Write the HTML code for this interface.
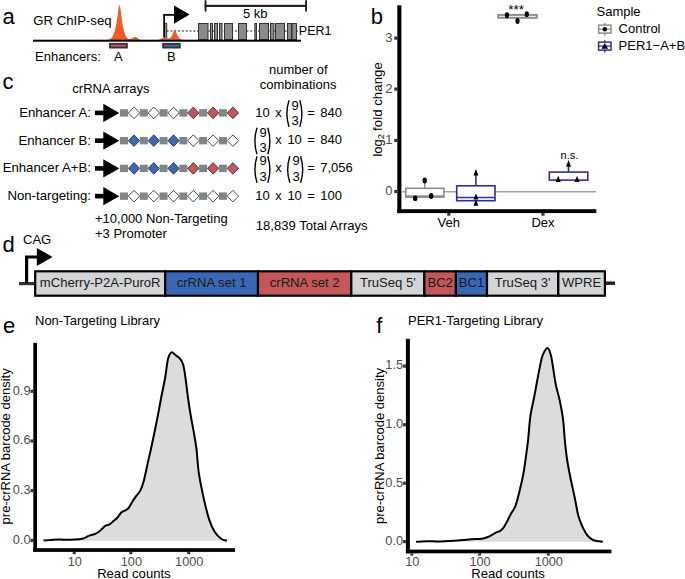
<!DOCTYPE html>
<html><head><meta charset="utf-8"><style>
html,body{margin:0;padding:0;background:#fff;}
svg{display:block;}
text{font-family:"Liberation Sans",sans-serif;}
</style></head><body>
<svg width="685" height="579" viewBox="0 0 685 579">
<rect width="685" height="579" fill="#fff"/>
<text x="2.5" y="24.3" font-size="22" text-anchor="start" fill="#000" >a</text>
<text x="33.2" y="24.6" font-size="13.2" text-anchor="start" fill="#000" >GR ChIP-seq</text>
<path d="M107,40 L107.00,39.80 L107.25,39.78 L107.50,39.75 L107.75,39.71 L108.00,39.67 L108.25,39.63 L108.50,39.58 L108.75,39.52 L109.00,39.45 L109.25,39.37 L109.50,39.29 L109.75,39.19 L110.00,39.07 L110.25,38.94 L110.50,38.79 L110.75,38.61 L111.00,38.42 L111.25,38.19 L111.50,37.94 L111.75,37.65 L112.00,37.33 L112.25,36.96 L112.50,36.56 L112.75,36.10 L113.00,35.60 L113.25,35.05 L113.50,34.45 L113.75,33.80 L114.00,33.09 L114.25,32.33 L114.50,31.52 L114.75,30.66 L115.00,29.75 L115.25,28.78 L115.50,27.76 L115.75,26.68 L116.00,25.52 L116.25,24.28 L116.50,22.95 L116.75,21.50 L117.00,19.92 L117.25,18.21 L117.50,16.37 L117.75,14.45 L118.00,12.49 L118.25,10.57 L118.50,8.79 L118.75,7.26 L119.00,6.09 L119.25,5.36 L119.50,5.14 L119.75,5.44 L120.00,6.25 L120.25,7.51 L120.50,9.12 L120.75,10.97 L121.00,12.96 L121.25,15.00 L121.50,16.99 L121.75,18.88 L122.00,20.65 L122.25,22.28 L122.50,23.78 L122.75,25.15 L123.00,26.43 L123.25,27.61 L123.50,28.71 L123.75,29.75 L124.00,30.72 L124.25,31.64 L124.50,32.50 L124.75,33.29 L125.00,34.03 L125.25,34.71 L125.50,35.33 L125.75,35.89 L126.00,36.40 L126.25,36.84 L126.50,37.23 L126.75,37.58 L127.00,37.87 L127.25,38.12 L127.50,38.33 L127.75,38.50 L128.00,38.64 L128.25,38.75 L128.50,38.83 L128.75,38.89 L129.00,38.93 L129.25,38.96 L129.50,38.96 L129.75,38.96 L130.00,38.94 L130.25,38.91 L130.50,38.86 L130.75,38.81 L131.00,38.74 L131.25,38.66 L131.50,38.57 L131.75,38.47 L132.00,38.36 L132.25,38.23 L132.50,38.10 L132.75,37.95 L133.00,37.81 L133.25,37.66 L133.50,37.52 L133.75,37.39 L134.00,37.26 L134.25,37.16 L134.50,37.07 L134.75,37.02 L135.00,36.99 L135.25,36.99 L135.50,37.02 L135.75,37.08 L136.00,37.17 L136.25,37.29 L136.50,37.43 L136.75,37.59 L137.00,37.77 L137.25,37.96 L137.50,38.15 L137.75,38.35 L138.00,38.54 L138.25,38.72 L138.50,38.89 L138.75,39.06 L139.00,39.20 L139.25,39.33 L139.50,39.45 L139.75,39.55 L140.00,39.64 L140.25,39.71 L140.50,39.77 L140.75,39.82 L141.00,39.87 L141,40 Z" fill="#ef5d26"/>
<line x1="166.7" y1="31" x2="298" y2="31" stroke="#666" stroke-width="1.3" stroke-dasharray="2,1.8"/>
<rect x="198.5" y="23.5" width="9.5" height="16" fill="#8a8a8a" stroke="#333" stroke-width="1"/>
<rect x="210.5" y="23.5" width="2" height="16" fill="#8a8a8a" stroke="#333" stroke-width="1"/>
<rect x="214.5" y="23.5" width="3" height="16" fill="#8a8a8a" stroke="#333" stroke-width="1"/>
<rect x="219.5" y="23.5" width="2.5" height="16" fill="#8a8a8a" stroke="#333" stroke-width="1"/>
<rect x="224.5" y="23.5" width="8" height="16" fill="#8a8a8a" stroke="#333" stroke-width="1"/>
<rect x="238.5" y="23.5" width="8" height="16" fill="#8a8a8a" stroke="#333" stroke-width="1"/>
<rect x="254.9" y="23.5" width="1.5999999999999943" height="16" fill="#8a8a8a" stroke="#333" stroke-width="1"/>
<rect x="259.5" y="23.5" width="9" height="16" fill="#8a8a8a" stroke="#333" stroke-width="1"/>
<rect x="270.5" y="23.5" width="3.3999999999999773" height="16" fill="#8a8a8a" stroke="#333" stroke-width="1"/>
<rect x="275.5" y="23.5" width="9" height="16" fill="#8a8a8a" stroke="#333" stroke-width="1"/>
<rect x="287.5" y="23.5" width="4" height="16" fill="#8a8a8a" stroke="#333" stroke-width="1"/>
<rect x="292.0" y="23.5" width="4.5" height="16" fill="#8a8a8a" stroke="#333" stroke-width="1"/>
<rect x="164.5" y="23.5" width="2.2" height="16" fill="#8a8a8a" stroke="#333" stroke-width="1"/>
<path d="M158,40 L158.00,39.89 L158.25,39.86 L158.50,39.82 L158.75,39.77 L159.00,39.72 L159.25,39.66 L159.50,39.59 L159.75,39.51 L160.00,39.42 L160.25,39.32 L160.50,39.20 L160.75,39.08 L161.00,38.95 L161.25,38.81 L161.50,38.66 L161.75,38.51 L162.00,38.36 L162.25,38.21 L162.50,38.06 L162.75,37.93 L163.00,37.80 L163.25,37.68 L163.50,37.58 L163.75,37.50 L164.00,37.44 L164.25,37.40 L164.50,37.38 L164.75,37.39 L165.00,37.42 L165.25,37.47 L165.50,37.53 L165.75,37.62 L166.00,37.71 L166.25,37.82 L166.50,37.93 L166.75,38.04 L167.00,38.15 L167.25,38.25 L167.50,38.34 L167.75,38.41 L168.00,38.47 L168.25,38.50 L168.50,38.51 L168.75,38.49 L169.00,38.45 L169.25,38.37 L169.50,38.27 L169.75,38.13 L170.00,37.97 L170.25,37.78 L170.50,37.56 L170.75,37.31 L171.00,37.03 L171.25,36.73 L171.50,36.39 L171.75,36.02 L172.00,35.61 L172.25,35.14 L172.50,34.61 L172.75,34.02 L173.00,33.36 L173.25,32.65 L173.50,31.92 L173.75,31.21 L174.00,30.55 L174.25,30.02 L174.50,29.66 L174.75,29.50 L175.00,29.57 L175.25,29.86 L175.50,30.33 L175.75,30.94 L176.00,31.64 L176.25,32.37 L176.50,33.09 L176.75,33.78 L177.00,34.40 L177.25,34.96 L177.50,35.46 L177.75,35.91 L178.00,36.31 L178.25,36.68 L178.50,37.02 L178.75,37.33 L179.00,37.63 L179.25,37.90 L179.50,38.15 L179.75,38.38 L180.00,38.60 L180.25,38.79 L180.50,38.96 L180.75,39.12 L181.00,39.26 L181.25,39.38 L181.50,39.48 L181.75,39.57 L182.00,39.65 L182.25,39.71 L182.50,39.77 L182.75,39.81 L183.00,39.85 L183.25,39.88 L183.50,39.91 L183.75,39.93 L184.00,39.94 L184,40 Z" fill="#ef5d26"/>
<path d="M164.1,37.2 L164.1,14.9 L175,14.9" fill="none" stroke="#000" stroke-width="1.7"/>
<polygon points="174,5.4 174,23.7 189.6,14.5" fill="#000"/>
<rect x="33" y="39.7" width="268" height="2" fill="#000"/>
<rect x="204.6" y="4.8" width="102.4" height="2.2" fill="#231f20"/>
<rect x="204.6" y="0" width="1.9" height="11.7" rx="0.9" fill="#231f20"/>
<rect x="305.1" y="0" width="1.9" height="11.7" rx="0.9" fill="#231f20"/>
<text x="255.2" y="17.9" font-size="13" text-anchor="middle" fill="#000" >5 kb</text>
<text x="298.8" y="35.4" font-size="12.5" text-anchor="start" fill="#000" >PER1</text>
<rect x="110" y="43.8" width="16.9" height="3.8" fill="#c4575a" stroke="#333" stroke-width="1.8"/>
<rect x="163.1" y="43.8" width="16.7" height="3.8" fill="#3b68b5" stroke="#333" stroke-width="1.8"/>
<text x="35" y="61.2" font-size="13" text-anchor="start" fill="#000" >Enhancers:</text>
<text x="118.3" y="61.4" font-size="13" text-anchor="middle" fill="#000" >A</text>
<text x="171.4" y="61.4" font-size="13" text-anchor="middle" fill="#000" >B</text>
<text x="2.5" y="89.3" font-size="22" text-anchor="start" fill="#000" >c</text>
<text x="72.3" y="93.2" font-size="13" text-anchor="start" fill="#000" >crRNA arrays</text>
<text x="298.3" y="73.7" font-size="13" text-anchor="middle" fill="#000" >number of</text>
<text x="298.1" y="89.4" font-size="13" text-anchor="middle" fill="#000" >combinations</text>
<text x="91.0" y="116.80000000000001" font-size="13.2" text-anchor="end" fill="#000" >Enhancer A:</text>
<rect x="95" y="110.60" width="9.5" height="4.6" fill="#000"/>
<polygon points="103.3,103.70 103.3,122.10 119.3,112.90" fill="#000"/>
<rect x="120.00" y="109.20" width="8" height="7.4" fill="#7e8689"/>
<polygon points="134.00,107.10 139.70,112.90 134.00,118.70 128.30,112.90" fill="#ffffff" stroke="#333" stroke-width="0.9"/>
<rect x="139.78" y="109.20" width="8" height="7.4" fill="#7e8689"/>
<polygon points="153.78,107.10 159.48,112.90 153.78,118.70 148.08,112.90" fill="#ffffff" stroke="#333" stroke-width="0.9"/>
<rect x="159.56" y="109.20" width="8" height="7.4" fill="#7e8689"/>
<polygon points="173.56,107.10 179.26,112.90 173.56,118.70 167.86,112.90" fill="#ffffff" stroke="#333" stroke-width="0.9"/>
<rect x="179.34" y="109.20" width="8" height="7.4" fill="#7e8689"/>
<polygon points="193.34,107.10 199.04,112.90 193.34,118.70 187.64,112.90" fill="#c4575a" stroke="#333" stroke-width="0.9"/>
<rect x="199.12" y="109.20" width="8" height="7.4" fill="#7e8689"/>
<polygon points="213.12,107.10 218.82,112.90 213.12,118.70 207.42,112.90" fill="#c4575a" stroke="#333" stroke-width="0.9"/>
<rect x="218.90" y="109.20" width="8" height="7.4" fill="#7e8689"/>
<polygon points="232.90,107.10 238.60,112.90 232.90,118.70 227.20,112.90" fill="#c4575a" stroke="#333" stroke-width="0.9"/>
<text x="91.0" y="144.55" font-size="13.2" text-anchor="end" fill="#000" >Enhancer B:</text>
<rect x="95" y="138.35" width="9.5" height="4.6" fill="#000"/>
<polygon points="103.3,131.45 103.3,149.85 119.3,140.65" fill="#000"/>
<rect x="120.00" y="136.95" width="8" height="7.4" fill="#7e8689"/>
<polygon points="134.00,134.85 139.70,140.65 134.00,146.45 128.30,140.65" fill="#3b68b5" stroke="#333" stroke-width="0.9"/>
<rect x="139.78" y="136.95" width="8" height="7.4" fill="#7e8689"/>
<polygon points="153.78,134.85 159.48,140.65 153.78,146.45 148.08,140.65" fill="#3b68b5" stroke="#333" stroke-width="0.9"/>
<rect x="159.56" y="136.95" width="8" height="7.4" fill="#7e8689"/>
<polygon points="173.56,134.85 179.26,140.65 173.56,146.45 167.86,140.65" fill="#3b68b5" stroke="#333" stroke-width="0.9"/>
<rect x="179.34" y="136.95" width="8" height="7.4" fill="#7e8689"/>
<polygon points="193.34,134.85 199.04,140.65 193.34,146.45 187.64,140.65" fill="#ffffff" stroke="#333" stroke-width="0.9"/>
<rect x="199.12" y="136.95" width="8" height="7.4" fill="#7e8689"/>
<polygon points="213.12,134.85 218.82,140.65 213.12,146.45 207.42,140.65" fill="#ffffff" stroke="#333" stroke-width="0.9"/>
<rect x="218.90" y="136.95" width="8" height="7.4" fill="#7e8689"/>
<polygon points="232.90,134.85 238.60,140.65 232.90,146.45 227.20,140.65" fill="#ffffff" stroke="#333" stroke-width="0.9"/>
<text x="91.0" y="172.3" font-size="13.2" text-anchor="end" fill="#000" >Enhancer A+B:</text>
<rect x="95" y="166.10" width="9.5" height="4.6" fill="#000"/>
<polygon points="103.3,159.20 103.3,177.60 119.3,168.40" fill="#000"/>
<rect x="120.00" y="164.70" width="8" height="7.4" fill="#7e8689"/>
<polygon points="134.00,162.60 139.70,168.40 134.00,174.20 128.30,168.40" fill="#3b68b5" stroke="#333" stroke-width="0.9"/>
<rect x="139.78" y="164.70" width="8" height="7.4" fill="#7e8689"/>
<polygon points="153.78,162.60 159.48,168.40 153.78,174.20 148.08,168.40" fill="#3b68b5" stroke="#333" stroke-width="0.9"/>
<rect x="159.56" y="164.70" width="8" height="7.4" fill="#7e8689"/>
<polygon points="173.56,162.60 179.26,168.40 173.56,174.20 167.86,168.40" fill="#3b68b5" stroke="#333" stroke-width="0.9"/>
<rect x="179.34" y="164.70" width="8" height="7.4" fill="#7e8689"/>
<polygon points="193.34,162.60 199.04,168.40 193.34,174.20 187.64,168.40" fill="#c4575a" stroke="#333" stroke-width="0.9"/>
<rect x="199.12" y="164.70" width="8" height="7.4" fill="#7e8689"/>
<polygon points="213.12,162.60 218.82,168.40 213.12,174.20 207.42,168.40" fill="#c4575a" stroke="#333" stroke-width="0.9"/>
<rect x="218.90" y="164.70" width="8" height="7.4" fill="#7e8689"/>
<polygon points="232.90,162.60 238.60,168.40 232.90,174.20 227.20,168.40" fill="#c4575a" stroke="#333" stroke-width="0.9"/>
<text x="91.0" y="200.05" font-size="13.2" text-anchor="end" fill="#000" >Non-targeting:</text>
<rect x="95" y="193.85" width="9.5" height="4.6" fill="#000"/>
<polygon points="103.3,186.95 103.3,205.35 119.3,196.15" fill="#000"/>
<rect x="120.00" y="192.45" width="8" height="7.4" fill="#7e8689"/>
<polygon points="134.00,190.35 139.70,196.15 134.00,201.95 128.30,196.15" fill="#ffffff" stroke="#333" stroke-width="0.9"/>
<rect x="139.78" y="192.45" width="8" height="7.4" fill="#7e8689"/>
<polygon points="153.78,190.35 159.48,196.15 153.78,201.95 148.08,196.15" fill="#ffffff" stroke="#333" stroke-width="0.9"/>
<rect x="159.56" y="192.45" width="8" height="7.4" fill="#7e8689"/>
<polygon points="173.56,190.35 179.26,196.15 173.56,201.95 167.86,196.15" fill="#ffffff" stroke="#333" stroke-width="0.9"/>
<rect x="179.34" y="192.45" width="8" height="7.4" fill="#7e8689"/>
<polygon points="193.34,190.35 199.04,196.15 193.34,201.95 187.64,196.15" fill="#ffffff" stroke="#333" stroke-width="0.9"/>
<rect x="199.12" y="192.45" width="8" height="7.4" fill="#7e8689"/>
<polygon points="213.12,190.35 218.82,196.15 213.12,201.95 207.42,196.15" fill="#ffffff" stroke="#333" stroke-width="0.9"/>
<rect x="218.90" y="192.45" width="8" height="7.4" fill="#7e8689"/>
<polygon points="232.90,190.35 238.60,196.15 232.90,201.95 227.20,196.15" fill="#ffffff" stroke="#333" stroke-width="0.9"/>
<text x="255.3" y="116.6" font-size="13" text-anchor="start" fill="#000" >10</text>
<text x="275.3" y="116.6" font-size="13" text-anchor="start" fill="#000" >x</text>
<path d="M289.0,100.3 Q284.8,113.6 289.0,126.89999999999999" fill="none" stroke="#000" stroke-width="1.4"/>
<text x="295.20000000000005" y="109.5" font-size="13" text-anchor="middle" fill="#000" >9</text>
<text x="295.20000000000005" y="124.8" font-size="13" text-anchor="middle" fill="#000" >3</text>
<path d="M299.8,100.3 Q304.0,113.6 299.8,126.89999999999999" fill="none" stroke="#000" stroke-width="1.4"/>
<text x="307.2" y="116.6" font-size="13" text-anchor="start" fill="#000" >=</text>
<text x="320.2" y="116.6" font-size="13" text-anchor="start" fill="#000" >840</text>
<path d="M257.0,127.7 Q252.79999999999998,141.0 257.0,154.3" fill="none" stroke="#000" stroke-width="1.4"/>
<text x="263.2" y="136.9" font-size="13" text-anchor="middle" fill="#000" >9</text>
<text x="263.2" y="152.2" font-size="13" text-anchor="middle" fill="#000" >3</text>
<path d="M267.8,127.7 Q272.0,141.0 267.8,154.3" fill="none" stroke="#000" stroke-width="1.4"/>
<text x="275.3" y="144.3" font-size="13" text-anchor="start" fill="#000" >x</text>
<text x="287.4" y="144.3" font-size="13" text-anchor="start" fill="#000" >10</text>
<text x="307.2" y="144.3" font-size="13" text-anchor="start" fill="#000" >=</text>
<text x="320.2" y="144.3" font-size="13" text-anchor="start" fill="#000" >840</text>
<path d="M257.0,156.2 Q252.79999999999998,169.5 257.0,182.8" fill="none" stroke="#000" stroke-width="1.4"/>
<text x="263.2" y="165.4" font-size="13" text-anchor="middle" fill="#000" >9</text>
<text x="263.2" y="180.7" font-size="13" text-anchor="middle" fill="#000" >3</text>
<path d="M267.8,156.2 Q272.0,169.5 267.8,182.8" fill="none" stroke="#000" stroke-width="1.4"/>
<text x="275.3" y="172.1" font-size="13" text-anchor="start" fill="#000" >x</text>
<path d="M289.79999999999995,156.2 Q285.59999999999997,169.5 289.79999999999995,182.8" fill="none" stroke="#000" stroke-width="1.4"/>
<text x="296.0" y="165.4" font-size="13" text-anchor="middle" fill="#000" >9</text>
<text x="296.0" y="180.7" font-size="13" text-anchor="middle" fill="#000" >3</text>
<path d="M300.59999999999997,156.2 Q304.79999999999995,169.5 300.59999999999997,182.8" fill="none" stroke="#000" stroke-width="1.4"/>
<text x="307.2" y="172.1" font-size="13" text-anchor="start" fill="#000" >=</text>
<text x="320.2" y="172.1" font-size="13" text-anchor="start" fill="#000" >7,056</text>
<text x="255.3" y="199.8" font-size="13" text-anchor="start" fill="#000" >10</text>
<text x="275.3" y="199.8" font-size="13" text-anchor="start" fill="#000" >x</text>
<text x="287.4" y="199.8" font-size="13" text-anchor="start" fill="#000" >10</text>
<text x="307.2" y="199.8" font-size="13" text-anchor="start" fill="#000" >=</text>
<text x="320.2" y="199.8" font-size="13" text-anchor="start" fill="#000" >100</text>
<text x="95" y="222.5" font-size="13" text-anchor="start" fill="#000" >+10,000 Non-Targeting</text>
<text x="95" y="237.8" font-size="13" text-anchor="start" fill="#000" >+3 Promoter</text>
<text x="255.8" y="230.1" font-size="13.1" text-anchor="start" fill="#000" >18,839 Total Arrays</text>
<text x="370.8" y="24.3" font-size="22" text-anchor="start" fill="#000" >b</text>
<rect x="397.3" y="5.3" width="4.1" height="207.8" fill="#000"/>
<rect x="397.3" y="209.2" width="199" height="3.9" fill="#000"/>
<rect x="394.3" y="36.5" width="3.2" height="3.2" fill="#333"/>
<text x="392.5" y="41.9" font-size="13" text-anchor="end" fill="#4d4d4d" >3</text>
<rect x="394.3" y="87.5" width="3.2" height="3.2" fill="#333"/>
<text x="392.5" y="92.89999999999999" font-size="13" text-anchor="end" fill="#4d4d4d" >2</text>
<rect x="394.3" y="138.8" width="3.2" height="3.2" fill="#333"/>
<text x="392.5" y="144.20000000000002" font-size="13" text-anchor="end" fill="#4d4d4d" >1</text>
<rect x="394.3" y="189.9" width="3.2" height="3.2" fill="#333"/>
<text x="392.5" y="195.3" font-size="13" text-anchor="end" fill="#4d4d4d" >0</text>
<rect x="447.2" y="213" width="3.2" height="2.7" fill="#333"/>
<text x="448.8" y="226.5" font-size="13" text-anchor="middle" fill="#000" >Veh</text>
<rect x="541.4" y="213" width="3.2" height="2.7" fill="#333"/>
<text x="543" y="226.5" font-size="13" text-anchor="middle" fill="#000" >Dex</text>
<line x1="401.4" y1="191.8" x2="596" y2="191.8" stroke="#a3a3a3" stroke-width="1.5"/>
<text transform="translate(382.3,156.6) rotate(-90)" font-size="13">log</text>
<text transform="translate(384.4,156.6) rotate(-90)" font-size="9.5" x="17.4">2</text>
<text transform="translate(382.3,156.6) rotate(-90)" font-size="13.3" x="25.7">fold change</text>
<line x1="424.7" y1="188" x2="424.7" y2="182" stroke="#8e8e8e" stroke-width="1.5"/>
<rect x="405.8" y="188.3" width="38.1" height="8.8" fill="#fff" stroke="#8e8e8e" stroke-width="1.6"/>
<line x1="405.8" y1="196.4" x2="443.9" y2="196.4" stroke="#8e8e8e" stroke-width="2.2"/>
<ellipse cx="424.7" cy="180.5" rx="2.2" ry="2.9" fill="#000"/>
<ellipse cx="415.2" cy="198.3" rx="2.2" ry="2.9" fill="#000"/>
<ellipse cx="431.2" cy="196" rx="2.2" ry="2.9" fill="#000"/>
<line x1="475.9" y1="185.5" x2="475.9" y2="175" stroke="#2e3192" stroke-width="1.6"/>
<rect x="456.7" y="185.8" width="38.3" height="14.9" fill="#fff" stroke="#2e3192" stroke-width="1.6"/>
<line x1="456.7" y1="197.6" x2="495" y2="197.6" stroke="#2e3192" stroke-width="1.5"/>
<polygon points="475.9,168.9 478.4,175.5 473.4,175.5" fill="#000"/>
<polygon points="475.9,193.4 478.4,199.6 473.4,199.6" fill="#000"/>
<polygon points="475.9,199.6 478.4,205.8 473.4,205.8" fill="#000"/>
<rect x="498.2" y="14.9" width="38.6" height="2.9" fill="#fff" stroke="#8e8e8e" stroke-width="2"/>
<ellipse cx="507" cy="15.3" rx="2.1" ry="3.0" fill="#000"/>
<ellipse cx="526.8" cy="14.3" rx="2.1" ry="3.0" fill="#000"/>
<ellipse cx="517.5" cy="20.9" rx="2.1" ry="3.0" fill="#000"/>
<text x="516.2" y="13.6" font-size="13.5" text-anchor="middle" fill="#000" >***</text>
<line x1="568.5" y1="172" x2="568.5" y2="166" stroke="#2e3192" stroke-width="1.6"/>
<rect x="549.3" y="172.1" width="38.5" height="8" fill="#fff" stroke="#2e3192" stroke-width="1.6"/>
<polygon points="568.5,160 571.0,166.8 566.0,166.8" fill="#000"/>
<polygon points="558.2,175.7 560.7,181.9 555.7,181.9" fill="#000"/>
<polygon points="577.1,175.7 579.6,181.9 574.6,181.9" fill="#000"/>
<text x="569.4" y="158.9" font-size="11" text-anchor="middle" fill="#000" >n.s.</text>
<text x="596.5" y="16" font-size="13" text-anchor="start" fill="#000" >Sample</text>
<line x1="604.8" y1="22.9" x2="604.8" y2="35.4" stroke="#8e8e8e" stroke-width="1.4"/>
<rect x="598.6" y="25.1" width="12.4" height="8" fill="#fff" stroke="#8e8e8e" stroke-width="1.5"/>
<line x1="598.6" y1="29.2" x2="611" y2="29.2" stroke="#8e8e8e" stroke-width="1.2"/>
<circle cx="604.8" cy="29.2" r="2.2" fill="#000"/>
<text x="618.6" y="33.2" font-size="13" text-anchor="start" fill="#000" >Control</text>
<line x1="604.8" y1="40.2" x2="604.8" y2="52.4" stroke="#2e3192" stroke-width="1.4"/>
<rect x="598.6" y="42.1" width="12.4" height="8" fill="#fff" stroke="#2e3192" stroke-width="1.5"/>
<line x1="598.6" y1="46.1" x2="611" y2="46.1" stroke="#2e3192" stroke-width="1.2"/>
<polygon points="604.8,42.9 608.1,48.8 601.5,48.8" fill="#000"/>
<text x="618.6" y="50.0" font-size="13" text-anchor="start" fill="#000" >PER1&#8722;A+B</text>
<text x="2.5" y="251.8" font-size="22" text-anchor="start" fill="#000" >d</text>
<text x="23" y="243.5" font-size="13" text-anchor="start" fill="#000" >CAG</text>
<rect x="19" y="282" width="18" height="3.2" fill="#333"/>
<rect x="604" y="281.5" width="11" height="3.4" fill="#222"/>
<path d="M26.6,283.5 L26.6,257 L38,257" fill="none" stroke="#000" stroke-width="3.2"/>
<polygon points="36.8,248.1 36.8,265.9 52.6,257" fill="#000"/>
<rect x="35.2" y="271.3" width="130.0" height="24.4" fill="#d2d4d6" stroke="#000" stroke-width="2.2"/>
<rect x="165.2" y="271.3" width="92.80000000000001" height="24.4" fill="#3b68b5" stroke="#000" stroke-width="2.2"/>
<rect x="258" y="271.3" width="93.30000000000001" height="24.4" fill="#c4575a" stroke="#000" stroke-width="2.2"/>
<rect x="351.3" y="271.3" width="73.09999999999997" height="24.4" fill="#d2d4d6" stroke="#000" stroke-width="2.2"/>
<rect x="424.4" y="271.3" width="31.5" height="24.4" fill="#c4575a" stroke="#000" stroke-width="2.2"/>
<rect x="455.9" y="271.3" width="31.100000000000023" height="24.4" fill="#3b68b5" stroke="#000" stroke-width="2.2"/>
<rect x="487" y="271.3" width="71.29999999999995" height="24.4" fill="#d2d4d6" stroke="#000" stroke-width="2.2"/>
<rect x="558.3" y="271.3" width="46.60000000000002" height="24.4" fill="#d2d4d6" stroke="#000" stroke-width="2.2"/>
<text x="100.19999999999999" y="286.7" font-size="13.1" text-anchor="middle" fill="#1a1a1a" >mCherry-P2A-PuroR</text>
<text x="211.6" y="286.7" font-size="13.1" text-anchor="middle" fill="#1a1a1a" >crRNA set 1</text>
<text x="304.65" y="286.7" font-size="13.1" text-anchor="middle" fill="#1a1a1a" >crRNA set 2</text>
<text x="387.85" y="286.7" font-size="13.1" text-anchor="middle" fill="#1a1a1a" >TruSeq 5'</text>
<text x="440.15" y="286.7" font-size="13.1" text-anchor="middle" fill="#1a1a1a" >BC2</text>
<text x="471.45" y="286.7" font-size="13.1" text-anchor="middle" fill="#1a1a1a" >BC1</text>
<text x="522.65" y="286.7" font-size="13.1" text-anchor="middle" fill="#1a1a1a" >TruSeq 3'</text>
<text x="581.5999999999999" y="286.7" font-size="13.1" text-anchor="middle" fill="#1a1a1a" >WPRE</text>
<text x="3" y="332.7" font-size="22" text-anchor="start" fill="#000" >e</text>
<text x="35" y="324.8" font-size="13" text-anchor="start" fill="#000" >Non-Targeting Library</text>
<path d="M43.60,540.40 C44.80,540.33 48.25,540.13 50.80,540.00 C53.35,539.87 56.22,539.65 58.90,539.60 C61.58,539.55 64.23,539.70 66.90,539.70 C69.57,539.70 72.35,539.77 74.90,539.60 C77.45,539.43 80.32,539.12 82.20,538.70 C84.08,538.28 85.00,537.62 86.20,537.10 C87.40,536.58 88.07,536.07 89.40,535.60 C90.73,535.13 92.73,534.85 94.20,534.30 C95.67,533.75 96.87,533.23 98.20,532.30 C99.53,531.37 101.00,529.78 102.20,528.70 C103.40,527.62 104.18,526.52 105.40,525.80 C106.62,525.08 108.15,525.20 109.50,524.40 C110.85,523.60 112.17,522.15 113.50,521.00 C114.83,519.85 116.17,518.95 117.50,517.50 C118.83,516.05 120.17,513.50 121.50,512.30 C122.83,511.10 124.30,511.05 125.50,510.30 C126.70,509.55 127.62,509.15 128.70,507.80 C129.78,506.45 130.92,503.93 132.00,502.20 C133.08,500.47 133.80,499.37 135.20,497.40 C136.60,495.43 139.00,493.03 140.40,490.40 C141.80,487.77 142.33,486.35 143.60,481.60 C144.87,476.85 146.78,467.30 148.00,461.90 C149.22,456.50 149.78,454.32 150.90,449.20 C152.02,444.08 153.43,437.37 154.70,431.20 C155.97,425.03 157.40,417.90 158.50,412.20 C159.60,406.50 160.20,402.70 161.30,397.00 C162.40,391.30 163.98,384.33 165.10,378.00 C166.22,371.67 166.95,363.28 168.00,359.00 C169.05,354.72 170.13,352.93 171.40,352.30 C172.67,351.67 174.20,354.18 175.60,355.20 C177.00,356.22 178.53,356.82 179.80,358.40 C181.07,359.98 182.25,361.43 183.20,364.70 C184.15,367.97 184.72,372.62 185.50,378.00 C186.28,383.38 187.02,390.67 187.90,397.00 C188.78,403.33 189.85,410.30 190.80,416.00 C191.75,421.70 192.65,425.67 193.60,431.20 C194.55,436.73 195.63,442.27 196.50,449.20 C197.37,456.13 197.57,464.48 198.80,472.80 C200.03,481.12 202.15,491.25 203.90,499.10 C205.65,506.95 207.48,514.42 209.30,519.90 C211.12,525.38 212.78,528.82 214.80,532.00 C216.82,535.18 219.38,537.55 221.40,539.00 C223.42,540.45 225.98,540.42 226.90,540.70 L226.9,540.8 L43.6,540.8 Z" fill="#dcdcdc"/>
<path d="M43.60,540.40 C44.80,540.33 48.25,540.13 50.80,540.00 C53.35,539.87 56.22,539.65 58.90,539.60 C61.58,539.55 64.23,539.70 66.90,539.70 C69.57,539.70 72.35,539.77 74.90,539.60 C77.45,539.43 80.32,539.12 82.20,538.70 C84.08,538.28 85.00,537.62 86.20,537.10 C87.40,536.58 88.07,536.07 89.40,535.60 C90.73,535.13 92.73,534.85 94.20,534.30 C95.67,533.75 96.87,533.23 98.20,532.30 C99.53,531.37 101.00,529.78 102.20,528.70 C103.40,527.62 104.18,526.52 105.40,525.80 C106.62,525.08 108.15,525.20 109.50,524.40 C110.85,523.60 112.17,522.15 113.50,521.00 C114.83,519.85 116.17,518.95 117.50,517.50 C118.83,516.05 120.17,513.50 121.50,512.30 C122.83,511.10 124.30,511.05 125.50,510.30 C126.70,509.55 127.62,509.15 128.70,507.80 C129.78,506.45 130.92,503.93 132.00,502.20 C133.08,500.47 133.80,499.37 135.20,497.40 C136.60,495.43 139.00,493.03 140.40,490.40 C141.80,487.77 142.33,486.35 143.60,481.60 C144.87,476.85 146.78,467.30 148.00,461.90 C149.22,456.50 149.78,454.32 150.90,449.20 C152.02,444.08 153.43,437.37 154.70,431.20 C155.97,425.03 157.40,417.90 158.50,412.20 C159.60,406.50 160.20,402.70 161.30,397.00 C162.40,391.30 163.98,384.33 165.10,378.00 C166.22,371.67 166.95,363.28 168.00,359.00 C169.05,354.72 170.13,352.93 171.40,352.30 C172.67,351.67 174.20,354.18 175.60,355.20 C177.00,356.22 178.53,356.82 179.80,358.40 C181.07,359.98 182.25,361.43 183.20,364.70 C184.15,367.97 184.72,372.62 185.50,378.00 C186.28,383.38 187.02,390.67 187.90,397.00 C188.78,403.33 189.85,410.30 190.80,416.00 C191.75,421.70 192.65,425.67 193.60,431.20 C194.55,436.73 195.63,442.27 196.50,449.20 C197.37,456.13 197.57,464.48 198.80,472.80 C200.03,481.12 202.15,491.25 203.90,499.10 C205.65,506.95 207.48,514.42 209.30,519.90 C211.12,525.38 212.78,528.82 214.80,532.00 C216.82,535.18 219.38,537.55 221.40,539.00 C223.42,540.45 225.98,540.42 226.90,540.70" fill="none" stroke="#000" stroke-width="2" stroke-linejoin="round"/>
<rect x="33.3" y="342.9" width="3.700000000000003" height="209.0000000000001" fill="#000"/>
<rect x="33.3" y="548.2" width="201.7" height="3.7" fill="#000"/>
<rect x="30.499999999999996" y="538.8" width="2.8" height="3.2" fill="#333"/>
<text x="30.499999999999996" y="543.6999999999999" font-size="12.8" text-anchor="end" fill="#4d4d4d" >0.0</text>
<rect x="30.499999999999996" y="489.09999999999997" width="2.8" height="3.2" fill="#333"/>
<text x="30.499999999999996" y="494.0" font-size="12.8" text-anchor="end" fill="#4d4d4d" >0.3</text>
<rect x="30.499999999999996" y="439.4" width="2.8" height="3.2" fill="#333"/>
<text x="30.499999999999996" y="444.3" font-size="12.8" text-anchor="end" fill="#4d4d4d" >0.6</text>
<rect x="30.499999999999996" y="389.7" width="2.8" height="3.2" fill="#333"/>
<text x="30.499999999999996" y="394.6" font-size="12.8" text-anchor="end" fill="#4d4d4d" >0.9</text>
<rect x="72.7" y="551.9000000000001" width="3" height="2.3" fill="#333"/>
<text x="74.7" y="566.3" font-size="12.7" text-anchor="middle" fill="#4d4d4d" >10</text>
<rect x="129.4" y="551.9000000000001" width="3" height="2.3" fill="#333"/>
<text x="131.4" y="566.3" font-size="12.7" text-anchor="middle" fill="#4d4d4d" >100</text>
<rect x="187.2" y="551.9000000000001" width="3" height="2.3" fill="#333"/>
<text x="189.2" y="566.3" font-size="12.7" text-anchor="middle" fill="#4d4d4d" >1000</text>
<text x="133.9" y="577.9" font-size="13.1" text-anchor="middle" fill="#000" >Read counts</text>
<text transform="translate(9.7,446.4) rotate(-90)" font-size="13" text-anchor="middle">pre-crRNA barcode density</text>
<text x="376.2" y="332.7" font-size="22" text-anchor="start" fill="#000" >f</text>
<text x="408" y="324.8" font-size="13" text-anchor="start" fill="#000" >PER1-Targeting Library</text>
<path d="M416.10,541.80 C418.00,541.72 424.13,541.37 427.50,541.30 C430.87,541.23 433.38,541.42 436.30,541.40 C439.22,541.38 442.08,541.30 445.00,541.20 C447.92,541.10 450.87,540.98 453.80,540.80 C456.73,540.62 459.68,540.37 462.60,540.10 C465.52,539.83 468.10,539.43 471.30,539.20 C474.50,538.97 479.17,539.02 481.80,538.70 C484.43,538.38 485.48,537.88 487.10,537.30 C488.72,536.72 490.05,535.98 491.50,535.20 C492.95,534.42 494.35,533.33 495.80,532.60 C497.25,531.87 498.88,531.68 500.20,530.80 C501.52,529.92 502.53,528.90 503.70,527.30 C504.87,525.70 506.03,523.38 507.20,521.20 C508.37,519.02 509.32,516.77 510.70,514.20 C512.08,511.63 514.03,509.62 515.50,505.80 C516.97,501.98 518.20,496.57 519.50,491.30 C520.80,486.03 522.28,479.58 523.30,474.20 C524.32,468.82 524.80,464.70 525.60,459.00 C526.40,453.30 527.30,447.17 528.10,440.00 C528.90,432.83 529.38,423.17 530.40,416.00 C531.42,408.83 533.10,402.70 534.20,397.00 C535.30,391.30 536.05,386.87 537.00,381.80 C537.95,376.73 538.95,371.03 539.90,366.60 C540.85,362.17 541.43,358.30 542.70,355.20 C543.97,352.10 546.13,348.00 547.50,348.00 C548.87,348.00 549.95,351.78 550.90,355.20 C551.85,358.62 552.35,363.43 553.20,368.50 C554.05,373.57 554.90,380.22 556.00,385.60 C557.10,390.98 558.62,395.10 559.80,400.80 C560.98,406.50 562.27,413.27 563.10,419.80 C563.93,426.33 564.15,433.47 564.80,440.00 C565.45,446.53 566.05,452.67 567.00,459.00 C567.95,465.33 569.23,471.67 570.50,478.00 C571.77,484.33 573.28,490.67 574.60,497.00 C575.92,503.33 576.97,510.77 578.40,516.00 C579.83,521.23 581.62,525.07 583.20,528.40 C584.78,531.73 586.15,534.03 587.90,536.00 C589.65,537.97 591.22,539.25 593.70,540.20 C596.18,541.15 601.28,541.45 602.80,541.70 L602.8,541.8 L416.1,541.8 Z" fill="#dcdcdc"/>
<path d="M416.10,541.80 C418.00,541.72 424.13,541.37 427.50,541.30 C430.87,541.23 433.38,541.42 436.30,541.40 C439.22,541.38 442.08,541.30 445.00,541.20 C447.92,541.10 450.87,540.98 453.80,540.80 C456.73,540.62 459.68,540.37 462.60,540.10 C465.52,539.83 468.10,539.43 471.30,539.20 C474.50,538.97 479.17,539.02 481.80,538.70 C484.43,538.38 485.48,537.88 487.10,537.30 C488.72,536.72 490.05,535.98 491.50,535.20 C492.95,534.42 494.35,533.33 495.80,532.60 C497.25,531.87 498.88,531.68 500.20,530.80 C501.52,529.92 502.53,528.90 503.70,527.30 C504.87,525.70 506.03,523.38 507.20,521.20 C508.37,519.02 509.32,516.77 510.70,514.20 C512.08,511.63 514.03,509.62 515.50,505.80 C516.97,501.98 518.20,496.57 519.50,491.30 C520.80,486.03 522.28,479.58 523.30,474.20 C524.32,468.82 524.80,464.70 525.60,459.00 C526.40,453.30 527.30,447.17 528.10,440.00 C528.90,432.83 529.38,423.17 530.40,416.00 C531.42,408.83 533.10,402.70 534.20,397.00 C535.30,391.30 536.05,386.87 537.00,381.80 C537.95,376.73 538.95,371.03 539.90,366.60 C540.85,362.17 541.43,358.30 542.70,355.20 C543.97,352.10 546.13,348.00 547.50,348.00 C548.87,348.00 549.95,351.78 550.90,355.20 C551.85,358.62 552.35,363.43 553.20,368.50 C554.05,373.57 554.90,380.22 556.00,385.60 C557.10,390.98 558.62,395.10 559.80,400.80 C560.98,406.50 562.27,413.27 563.10,419.80 C563.93,426.33 564.15,433.47 564.80,440.00 C565.45,446.53 566.05,452.67 567.00,459.00 C567.95,465.33 569.23,471.67 570.50,478.00 C571.77,484.33 573.28,490.67 574.60,497.00 C575.92,503.33 576.97,510.77 578.40,516.00 C579.83,521.23 581.62,525.07 583.20,528.40 C584.78,531.73 586.15,534.03 587.90,536.00 C589.65,537.97 591.22,539.25 593.70,540.20 C596.18,541.15 601.28,541.45 602.80,541.70" fill="none" stroke="#000" stroke-width="2" stroke-linejoin="round"/>
<rect x="405.9" y="338.8" width="4.0" height="214.50000000000006" fill="#000"/>
<rect x="405.9" y="549.6" width="205.5" height="3.7" fill="#000"/>
<rect x="403.09999999999997" y="540.0" width="2.8" height="3.2" fill="#333"/>
<text x="403.09999999999997" y="544.9" font-size="12.8" text-anchor="end" fill="#4d4d4d" >0.0</text>
<rect x="403.09999999999997" y="481.59999999999997" width="2.8" height="3.2" fill="#333"/>
<text x="403.09999999999997" y="486.5" font-size="12.8" text-anchor="end" fill="#4d4d4d" >0.5</text>
<rect x="403.09999999999997" y="423.09999999999997" width="2.8" height="3.2" fill="#333"/>
<text x="403.09999999999997" y="428.0" font-size="12.8" text-anchor="end" fill="#4d4d4d" >1.0</text>
<rect x="403.09999999999997" y="364.5" width="2.8" height="3.2" fill="#333"/>
<text x="403.09999999999997" y="369.40000000000003" font-size="12.8" text-anchor="end" fill="#4d4d4d" >1.5</text>
<rect x="410.3" y="553.3000000000001" width="3" height="2.3" fill="#333"/>
<text x="412.3" y="566.3" font-size="12.7" text-anchor="middle" fill="#4d4d4d" >10</text>
<rect x="478.1" y="553.3000000000001" width="3" height="2.3" fill="#333"/>
<text x="480.1" y="566.3" font-size="12.7" text-anchor="middle" fill="#4d4d4d" >100</text>
<rect x="546.8" y="553.3000000000001" width="3" height="2.3" fill="#333"/>
<text x="548.8" y="566.3" font-size="12.7" text-anchor="middle" fill="#4d4d4d" >1000</text>
<text x="508.1" y="577.9" font-size="13.1" text-anchor="middle" fill="#000" >Read counts</text>
<text transform="translate(383.9,446) rotate(-90)" font-size="13" text-anchor="middle">pre-crRNA barcode density</text>
</svg>
</body></html>
